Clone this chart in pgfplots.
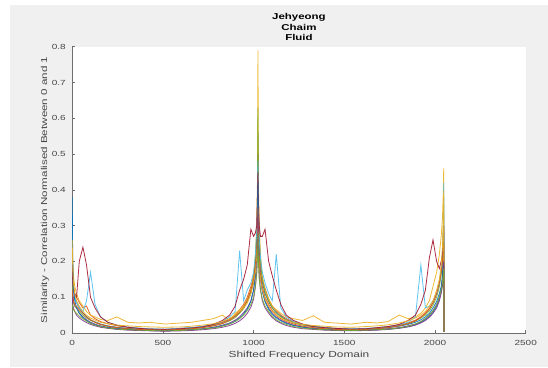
\documentclass[border=0pt]{standalone}
\usepackage{fontspec}
\setmainfont{Liberation Sans}[FakeStretch=1.35]
\usepackage{pgfplots}
\usepackage{pgfplotstable}
\pgfplotsset{compat=1.18}
\definecolor{mblue}{RGB}{0,114,189}
\definecolor{morange}{RGB}{217,83,25}
\definecolor{myellow}{RGB}{237,177,32}
\definecolor{mpurple}{RGB}{126,47,142}
\definecolor{mgreen}{RGB}{119,172,48}
\definecolor{mcyan}{RGB}{77,190,238}
\definecolor{mmaroon}{RGB}{162,20,47}
\definecolor{figbg}{RGB}{240,240,240}
\definecolor{axgray}{RGB}{110,110,110}
\definecolor{txtgray}{RGB}{70,70,70}

\pgfplotstableread{
x s1 s2 s3 s4 s5 s6 s7 s8 s9 s10 s11 s12
0 .30 .22 .29 .18 .14 .22 .20 .38 .12 .26 .10 .08
3 .17 .16 .20 .12 .10 .15 .14 .20 .10 .18 .08 .07
7 .12 .13 .16 .09 .085 .12 .12 .13 .09 .14 .07 .065
14 .095 .11 .13 .075 .075 .10 .11 .09 .08 .11 .06 .06
24 .085 .10 .11 .07 .07 .085 .10 .07 .075 .09 .05 .055
39 .07 .085 .09 .055 .06 .07 .20 .055 .065 .075 .042 .047
59 .056 .07 .075 .045 .05 .06 .24 .043 .055 .06 .035 .04
79 .046 .075 .06 .037 .042 .09 .19 .035 .045 .05 .029 .033
101 .036 .05 .05 .03 .035 .17 .10 .028 .037 .042 .024 .027
126 .031 .04 .045 .025 .03 .08 .07 .023 .03 .036 .02 .022
156 .025 .032 .038 .02 .024 .045 .045 .018 .024 .03 .016 .018
196 .02 .026 .035 .016 .019 .03 .03 .015 .019 .026 .013 .014
246 .016 .02 .045 .013 .015 .022 .022 .012 .015 .022 .01 .011
306 .013 .016 .03 .01 .012 .017 .016 .01 .012 .02 .008 .009
366 .011 .013 .028 .008 .01 .014 .013 .008 .01 .018 .007 .008
426 .01 .011 .03 .007 .009 .012 .011 .007 .009 .017 .006 .007
512 .009 .01 .025 .006 .008 .011 .01 .006 .008 .016 .005 .006
598 .013 .012 .028 .008 .01 .013 .012 .008 .01 .017 .006 .007
658 .015 .014 .03 .01 .012 .015 .014 .009 .012 .019 .007 .009
718 .018 .017 .035 .012 .015 .018 .017 .011 .015 .022 .009 .011
778 .024 .022 .04 .016 .02 .024 .024 .015 .02 .026 .012 .014
828 .03 .03 .05 .022 .026 .032 .035 .02 .027 .032 .016 .019
868 .038 .04 .035 .028 .034 .045 .05 .026 .036 .04 .021 .025
898 .048 .05 .055 .036 .043 .06 .075 .033 .046 .05 .027 .032
923 .058 .065 .065 .045 .055 .23 .12 .042 .058 .06 .034 .04
945 .072 .08 .075 .057 .068 .09 .15 .053 .072 .07 .043 .05
965 .09 .10 .095 .07 .085 .12 .19 .067 .09 .085 .055 .063
985 .115 .13 .12 .09 .11 .14 .29 .088 .12 .11 .072 .08
1000 .14 .16 .16 .12 .15 .17 .27 .12 .15 .14 .095 .10
1010 .17 .20 .22 .16 .20 .22 .28 .16 .19 .17 .13 .13
1017 .23 .25 .30 .22 .28 .28 .30 .22 .23 .21 .17 .16
1021 .31 .30 .42 .30 .38 .35 .38 .28 .28 .25 .22 .20
1024 .55 .45 .79 .50 .63 .48 .45 .42 .35 .30 .33 .28
1027 .30 .31 .40 .29 .37 .33 .36 .27 .26 .24 .21 .19
1031 .22 .24 .30 .21 .27 .26 .30 .20 .20 .19 .16 .15
1038 .165 .19 .22 .16 .20 .21 .27 .15 .16 .15 .12 .12
1048 .142 .15 .16 .12 .15 .17 .27 .115 .13 .12 .09 .095
1063 .11 .125 .12 .09 .115 .14 .29 .087 .10 .095 .07 .075
1083 .088 .095 .095 .07 .088 .11 .20 .066 .08 .075 .055 .06
1103 .07 .075 .075 .056 .07 .09 .16 .052 .063 .06 .043 .047
1125 .057 .062 .065 .045 .056 .22 .12 .042 .05 .05 .034 .037
1150 .047 .05 .055 .036 .045 .07 .08 .034 .04 .042 .027 .03
1180 .037 .04 .045 .029 .036 .045 .05 .027 .032 .035 .021 .024
1220 .029 .031 .04 .022 .028 .032 .035 .021 .025 .029 .016 .018
1270 .023 .024 .035 .017 .022 .024 .025 .016 .019 .024 .012 .014
1330 .018 .019 .048 .013 .017 .019 .018 .012 .015 .021 .01 .011
1390 .015 .015 .03 .011 .014 .016 .015 .01 .012 .019 .008 .009
1450 .012 .013 .028 .009 .012 .013 .013 .009 .01 .017 .007 .008
1536 .01 .011 .025 .007 .01 .012 .011 .007 .009 .016 .006 .007
1622 .011 .012 .03 .008 .011 .013 .012 .008 .01 .018 .007 .008
1682 .012 .014 .028 .01 .013 .015 .015 .009 .012 .02 .008 .009
1742 .015 .018 .032 .012 .016 .018 .018 .011 .015 .023 .01 .011
1802 .019 .022 .05 .015 .02 .023 .024 .014 .02 .028 .013 .014
1852 .024 .028 .04 .02 .026 .03 .035 .018 .026 .034 .017 .019
1892 .03 .036 .045 .025 .033 .045 .05 .023 .034 .042 .022 .025
1922 .037 .045 .055 .032 .042 .19 .08 .03 .044 .05 .028 .032
1947 .045 .055 .07 .04 .05 .07 .12 .037 .055 .06 .035 .04
1969 .055 .068 .09 .05 .062 .075 .21 .046 .068 .075 .044 .05
1989 .07 .085 .13 .062 .078 .09 .26 .058 .085 .09 .055 .062
2009 .088 .11 .17 .08 .10 .11 .20 .075 .11 .12 .07 .078
2024 .11 .14 .22 .10 .13 .14 .18 .095 .14 .15 .09 .10
2034 .13 .17 .27 .12 .16 .18 .20 .12 .17 .19 .11 .12
2041 .16 .20 .32 .15 .20 .22 .22 .15 .20 .24 .13 .14
2045 .21 .24 .38 .19 .25 .28 .25 .19 .22 .30 .16 .16
2048 .38 .33 .46 .28 .36 .42 .30 .30 .25 .40 .20 .18
2050 .003 .003 .003 .003 .003 .003 .003 .003 .003 .003 .003 .003
}\datatable

\begin{document}
\begin{tikzpicture}[x=1pt,y=1pt]
\path[use as bounding box] (0,0) rectangle (548,367);
\fill[white] (0,0) rectangle (548,367);
\fill[figbg] (10,0) rectangle (548,362);
\begin{axis}[
  at={(72.2pt,34pt)}, anchor=south west,
  scale only axis, width=453.5pt, height=286.3pt,
  xmin=0, xmax=2500, ymin=0, ymax=0.8,
  axis background/.style={fill=white},
  axis x line*=bottom, axis y line*=left,
  axis line style={axgray, line width=0.6pt},
  xtick={0,500,1000,1500,2000,2500},
  ytick={0,0.1,0.2,0.3,0.4,0.5,0.6,0.7,0.8},
  tick align=inside, major tick length=3pt,
  tick style={axgray, line width=0.5pt},
  /pgf/number format/assume math mode=true,
  /pgf/number format/1000 sep={},
  ticklabel style={font=\fontsize{7.4}{9}\selectfont, text=txtgray},
  xticklabel style={yshift=-4pt},
  yticklabel style={xshift=-3pt},
  title={Jehyeong\\Chaim\\Fluid},
  title style={at={(axis description cs:0.5,1)}, anchor=south, inner sep=0pt, yshift=-0.5pt,
    align=center, font=\fontsize{8.5}{10.5}\selectfont\bfseries, text=black},
  xlabel={Shifted Frequency Domain},
  xlabel style={at={(axis description cs:0.5,0)}, anchor=center, yshift=-22.7pt,
    font=\fontsize{8.8}{10}\selectfont, text=txtgray},
  ylabel={Similarity - Correlation Normalised Between 0 and 1},
  every axis y label/.style={at={(axis description cs:-0.06,0.5)}, anchor=center, rotate=90,
    font=\fontsize{8.6}{10}\selectfont, text=txtgray},
  every axis plot/.append style={line width=0.8pt, opacity=0.9},
]
\addplot[mblue] table[x=x,y=s1] {\datatable};
\addplot[morange] table[x=x,y=s2] {\datatable};
\addplot[myellow] table[x=x,y=s3] {\datatable};
\addplot[mpurple] table[x=x,y=s4] {\datatable};
\addplot[mgreen] table[x=x,y=s5] {\datatable};
\addplot[mcyan] table[x=x,y=s6] {\datatable};
\addplot[mmaroon] table[x=x,y=s7] {\datatable};
\addplot[mblue] table[x=x,y=s8] {\datatable};
\addplot[morange] table[x=x,y=s9] {\datatable};
\addplot[myellow] table[x=x,y=s10] {\datatable};
\addplot[mpurple] table[x=x,y=s11] {\datatable};
\addplot[mgreen] table[x=x,y=s12] {\datatable};
\end{axis}
\end{tikzpicture}
\end{document}
